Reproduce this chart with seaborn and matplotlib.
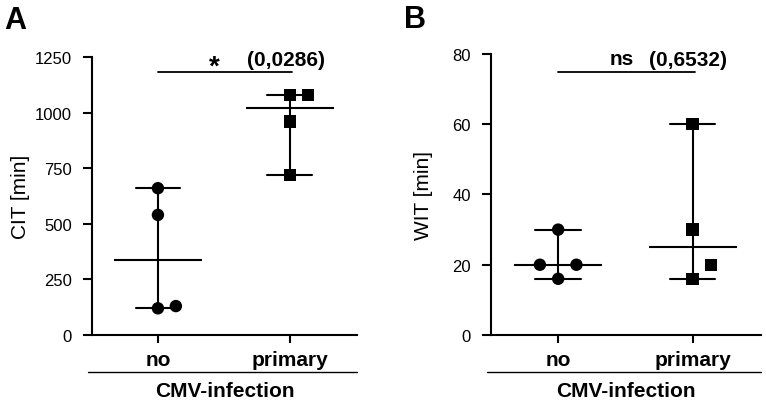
import numpy as np
import pandas as pd
import matplotlib
matplotlib.use("Agg")
import matplotlib.pyplot as plt
import seaborn as sns

# -----------------------------
# DATA
# -----------------------------
groups = ["no", "primary"]
cit_no = [660, 540, 120, 130]
cit_primary = [1080, 1080, 960, 720]
wit_no = [30, 20, 20, 16]
wit_primary = [60, 30, 20, 16]

panel_letters = ["A", "B"]
y_labels = ["CIT [min]", "WIT [min]"]
y_max = [1250, 80]
y_step = [250, 20]
sig_marks = ["*", "ns"]
p_values = ["(0,0286)", "(0,6532)"]
bracket_y = [1182, 75]
x_title = "CMV-infection"

# -----------------------------
# STYLE
# -----------------------------
sns.set_style("ticks")
plt.rcParams["font.family"] = ["Liberation Sans", "DejaVu Sans"]
plt.rcParams["axes.linewidth"] = 1.5
for key in ["text.color", "axes.labelcolor", "axes.edgecolor",
            "xtick.color", "ytick.color"]:
    plt.rcParams[key] = "black"


def side_slots(values, tol):
    # prism-like column scatter: values that are close sit next to each other
    placed = []
    slots = []
    for v in values:
        taken = {s for u, s in placed if abs(u - v) < tol}
        slot = next(s for s in (0, 1, -1, 2, -2) if s not in taken)
        placed.append((v, slot))
        slots.append(slot)
    return slots


def make_df(no_vals, prim_vals, tol):
    df = pd.DataFrame({
        "group": ["no"] * len(no_vals) + ["primary"] * len(prim_vals),
        "value": list(no_vals) + list(prim_vals),
    })
    df = df.sort_values(["group", "value"]).reset_index(drop=True)
    df["slot"] = 0
    for g in groups:
        m = df["group"] == g
        df.loc[m, "slot"] = side_slots(df.loc[m, "value"].tolist(), tol)
    df["x"] = df["group"].map({g: i for i, g in enumerate(groups)}) + df["slot"] * 0.136
    return df


data = [make_df(cit_no, cit_primary, 0.07 * y_max[0]),
        make_df(wit_no, wit_primary, 0.07 * y_max[1])]

# -----------------------------
# PLOT
# -----------------------------
fig = plt.figure(figsize=(7.66, 4.02), dpi=100)
axes = [fig.add_axes([0.1201, 0.1642, 0.346, 0.6915]),
        fig.add_axes([0.641, 0.1642, 0.3525, 0.699])]

for i, ax in enumerate(axes):
    df = data[i]

    # median with range
    sns.pointplot(data=df, x="group", y="value", order=groups,
                  estimator="median", errorbar=("pi", 100), capsize=0.34,
                  color="black", markers="_", linestyle="none",
                  markersize=64, markeredgewidth=1.5,
                  err_kws={"linewidth": 1.5}, ax=ax)

    sns.scatterplot(data=df, x="x", y="value", style="group",
                    markers={"no": "o", "primary": "s"}, color="black",
                    s=80, linewidth=0, legend=False, zorder=4, ax=ax)

    ax.set_xlim(-0.5, 1.51)
    ax.set_ylim(0, y_max[i])
    ax.set_yticks(np.arange(0, y_max[i] + 1, y_step[i]))
    ax.set_xticks(range(len(groups)))
    ax.set_xticklabels(groups, fontsize=15, fontweight="bold")
    ax.tick_params(axis="y", length=6.5, width=1.5, pad=8, labelsize=12)
    ax.tick_params(axis="x", length=6, width=1.5, pad=5)
    sns.despine(ax=ax)

    ax.set_ylabel(y_labels[i], fontsize=15)
    ax.yaxis.set_label_coords(-0.235 if i == 0 else -0.215, 0.5)
    ax.set_xlabel(x_title, fontsize=15, fontweight="bold")
    ax.xaxis.set_label_coords(0.5, -0.165)

    # line under group names
    ax.plot([-0.015, 1.0], [-0.133, -0.133], transform=ax.transAxes,
            color="black", lw=1, clip_on=False)

    # significance bracket
    ax.plot([0, 1.02], [bracket_y[i], bracket_y[i]], color="black", lw=1.3,
            clip_on=False)
    if sig_marks[i] == "*":
        ax.annotate(sig_marks[i], (0.43, bracket_y[i]), xytext=(0, -1),
                    textcoords="offset points", ha="center", va="baseline",
                    fontsize=20, fontweight="bold", annotation_clip=False)
    else:
        ax.annotate(sig_marks[i], (0.47, bracket_y[i]), xytext=(0, 5.5),
                    textcoords="offset points", ha="center", va="baseline",
                    fontsize=15, fontweight="bold", annotation_clip=False)
    ax.annotate(p_values[i], (0.97, bracket_y[i]), xytext=(0, 5),
                textcoords="offset points", ha="center", va="baseline",
                fontsize=15, fontweight="bold", annotation_clip=False)

fig.text(0.005, 0.928, panel_letters[0], fontsize=22, fontweight="bold")
fig.text(0.528, 0.93, panel_letters[1], fontsize=22, fontweight="bold")

fig.savefig("out.png", dpi=100)
